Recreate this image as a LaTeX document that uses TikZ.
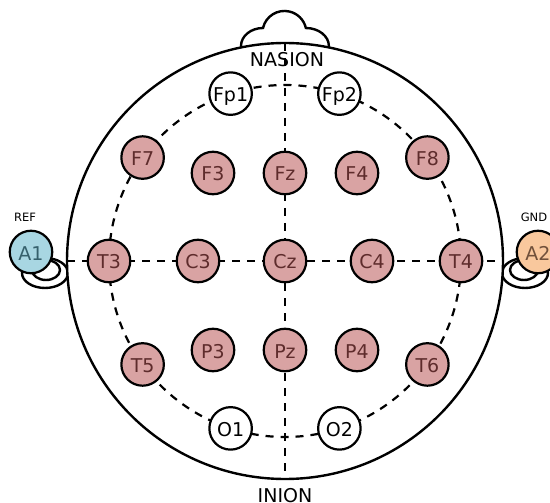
\documentclass[tikz,border=0pt]{standalone}
\usepackage{fontspec}
\setmainfont{DejaVu Sans}
\definecolor{elred}{HTML}{D9A3A3}
\definecolor{elredtext}{HTML}{5E2C2C}
\definecolor{elblue}{HTML}{A8D6E2}
\definecolor{elbluetext}{HTML}{36606C}
\definecolor{elorange}{HTML}{F9C89D}
\definecolor{elorangetext}{HTML}{70503A}
\begin{document}
\begin{tikzpicture}[x=1pt,y=1pt,
  outline/.style={line width=2.4pt},
  guide/.style={line width=2.2pt, dash pattern=on 8pt off 7pt},
  electrode/.style={circle, draw, line width=2.2pt, minimum size=42.5pt, inner sep=0pt,
    font=\fontsize{19}{19}\selectfont, text height=16pt, text depth=0pt},
  scalp/.style={electrode, fill=elred, text=elredtext},
  blank/.style={electrode, fill=white, text=black},
  refear/.style={electrode, fill=elblue, text=elbluetext},
  gndear/.style={electrode, fill=elorange, text=elorangetext},
  landmark/.style={font=\fontsize{19}{19}\selectfont, inner sep=0pt},
  smalllabel/.style={font=\fontsize{11.5}{11.5}\selectfont, inner sep=0pt}
]
\useasboundingbox (0,0) rectangle (550,-503);
\coordinate (c) at (285,-261);
% nose
\draw[outline] (241,-52) -- (241,-46)
  arc[start angle=180,end angle=90,x radius=22,y radius=18]
  arc[start angle=167,end angle=13,radius=22]
  arc[start angle=90,end angle=0,x radius=23,y radius=18] -- ++(0,-6);
% ears
\draw[outline] (45,-273) ellipse[x radius=23, y radius=15];
\draw[outline] (46,-270) ellipse[x radius=14, y radius=10];
\draw[outline] (525,-273) ellipse[x radius=23, y radius=15];
\draw[outline] (524,-270) ellipse[x radius=14, y radius=10];
% head
\draw[outline, fill=white] (c) circle[radius=218];
\draw[guide] (c) circle[radius=176];
\coordinate (nz) at (285,-43);
\coordinate (iz) at (285,-479);
\coordinate (lp) at (67,-261);
\coordinate (rp) at (503,-261);
\draw[guide] (nz) -- (iz);
\draw[guide] (lp) -- (rp);
% electrodes
\begin{scope}[shift={(285,-261)}]
  \node[blank] (Fp1) at (108:176) {Fp1};
  \node[blank] (Fp2) at (72:176) {Fp2};
  \node[scalp] (F7) at (144:176) {F7};
  \node[scalp] (F8) at (36:176) {F8};
  \node[scalp] (T3) at (180:176) {T3};
  \node[scalp] (T4) at (0:176) {T4};
  \node[scalp] (T5) at (216:176) {T5};
  \node[scalp] (T6) at (324:176) {T6};
  \node[blank] (O1) at (252:176) {O1};
  \node[blank] (O2) at (288:176) {O2};
  \node[scalp] (F3) at (-72,88) {F3};
  \node[scalp] (Fz) at (0,88) {Fz};
  \node[scalp] (F4) at (72,88) {F4};
  \node[scalp] (C3) at (-87,0) {C3};
  \node[scalp] (Cz) at (0,0) {Cz};
  \node[scalp] (C4) at (87,0) {C4};
  \node[scalp] (P3) at (-72,-89) {P3};
  \node[scalp] (Pz) at (0,-89) {Pz};
  \node[scalp] (P4) at (72,-89) {P4};
\end{scope}
\node[refear] (A1) at (31,-252) {A1};
\node[gndear] (A2) at (538,-252) {A2};
% labels
\node[landmark] (nasion) at (287,-60) {NASION};
\node[landmark] (inion) at (285,-496) {INION};
\node[smalllabel] (ref) at (25,-217.5) {REF};
\node[smalllabel] (gnd) at (534,-217) {GND};
\end{tikzpicture}
\end{document}
